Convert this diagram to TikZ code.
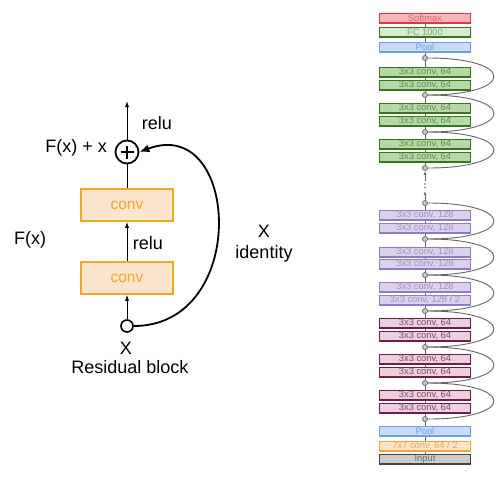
\documentclass[tikz,border=0pt]{standalone}
\usepackage{fontspec}
\setmainfont{Liberation Sans}
\usetikzlibrary{arrows.meta}
\definecolor{convOr}{HTML}{F5A623}
\definecolor{convFill}{HTML}{FCE5CD}
\definecolor{smD}{HTML}{E03A3A}\definecolor{smF}{HTML}{F4B6B9}\definecolor{smT}{HTML}{E06666}
\definecolor{fcD}{HTML}{38761D}\definecolor{fcF}{HTML}{D9EAD3}\definecolor{fcT}{HTML}{7FA870}
\definecolor{plD}{HTML}{6D9EEB}\definecolor{plF}{HTML}{C9DAF8}\definecolor{plT}{HTML}{6D9EEB}
\definecolor{gnD}{HTML}{38761D}\definecolor{gnF}{HTML}{B6D7A8}\definecolor{gnT}{HTML}{5E8F4E}
\definecolor{puD}{HTML}{8E7CC3}\definecolor{puF}{HTML}{D9D2E9}\definecolor{puT}{HTML}{9C90CC}
\definecolor{rdD}{HTML}{741B47}\definecolor{rdF}{HTML}{EAD1DC}\definecolor{rdT}{HTML}{7E4A62}
\definecolor{svD}{HTML}{F6A43A}\definecolor{svF}{HTML}{FCE5CD}\definecolor{svT}{HTML}{F0A848}
\definecolor{inD}{HTML}{434343}\definecolor{inF}{HTML}{CCCCCC}\definecolor{inT}{HTML}{666666}
\definecolor{lineG}{HTML}{666666}
\tikzset{
  lbl/.style={inner sep=0pt, font=\fontsize{18}{20}\selectfont},
  convbox/.style={draw=convOr, fill=convFill, line width=1.5pt, minimum width=92pt, minimum height=32pt, inner sep=0pt, text=convOr, font=\fontsize{15.5}{17}\selectfont},
  sarrow/.style={line width=0.9pt, -{Latex[length=6pt,width=4pt]}},
  barrow/.style={line width=1.8pt, -{Latex[length=10pt,width=8pt]}},
  rbox/.style={line width=1.5pt, minimum width=91pt, minimum height=9.5pt, inner sep=0pt, font=\fontsize{9.3}{9.3}\selectfont},
  bsm/.style={rbox, draw=smD, fill=smF, text=smT},
  bfc/.style={rbox, draw=fcD, fill=fcF, text=fcT},
  bpl/.style={rbox, draw=plD, fill=plF, text=plT},
  bgn/.style={rbox, draw=gnD, fill=gnF, text=gnT},
  bpu/.style={rbox, draw=puD, fill=puF, text=puT},
  brd/.style={rbox, draw=rdD, fill=rdF, text=rdT},
  bsv/.style={rbox, draw=svD, fill=svF, text=svT},
  bin/.style={rbox, draw=inD, fill=inF, text=inT},
  jn/.style={circle, draw=lineG, fill=inF, line width=0.8pt, minimum size=5pt, inner sep=0pt},
  bb/.style={draw=lineG, line width=0.8pt},
  garrow/.style={draw=lineG, line width=0.8pt, -{Latex[length=4pt,width=3pt]}},
  skipc/.style={draw=lineG, line width=0.9pt}
}
\begin{document}
\begin{tikzpicture}[x=1pt,y=-1pt]
\useasboundingbox[fill=white] (0,0) rectangle (498,483);
% ---------- Residual block ----------
\node[convbox] (cu) at (127,205) {conv};
\node[convbox] (cl) at (127,278) {conv};
\node[circle, draw, line width=1.8pt, minimum size=23pt, inner sep=0pt] (plus) at (127,152) {};
\draw[line width=2.8pt] (plus.center) ++(-6.5,0) -- ++(13,0);
\draw[line width=2.8pt] (plus.center) ++(0,-6.5) -- ++(0,13);
\node[circle, draw, line width=1.6pt, minimum size=12pt, inner sep=0pt] (xin) at (127,326) {};
\coordinate (out) at (127,101);
\draw[sarrow] (xin) -- (cl);
\draw[sarrow] (cl) -- (cu);
\draw[line width=0.9pt] (cu) -- (plus);
\draw[sarrow] (plus) -- (out);
\draw[barrow] (xin.east) .. controls (250,326) and (240,114) .. (plus.east);
\node[lbl] (relu1) at (157,123) {relu};
\node[lbl, anchor=east] (fxx) at (107,148) {F(x) + x};
\node[lbl] (fx) at (30,240) {F(x)};
\node[lbl] (relu2) at (148,243) {relu};
\node[lbl] (xid) at (264,231) {X};
\node[lbl] (ident) at (264,254) {identity};
\node[lbl] (xb) at (126,348) {X};
\node[lbl] (rb) at (130,367) {Residual block};
% ---------- ResNet column ----------
\node[bsm] (sm) at (425,18) {Softmax};
\node[bfc] (fc) at (425,32) {FC 1000};
\node[bpl] (pt) at (425,47) {Pool};
\node[jn] (k1) at (425,58) {};
\node[bgn] (g1) at (425,72) {3x3 conv, 64};
\node[bgn] (g2) at (425,85) {3x3 conv, 64};
\node[jn] (k2) at (425,95) {};
\node[bgn] (g3) at (425,108) {3x3 conv, 64};
\node[bgn] (g4) at (425,121) {3x3 conv, 64};
\node[jn] (k3) at (425,132) {};
\node[bgn] (g5) at (425,144) {3x3 conv, 64};
\node[bgn] (g6) at (425,157) {3x3 conv, 64};
\node[jn] (k4) at (425,168) {};
\node[jn] (k5) at (425,203) {};
\node[bpu] (p1) at (425,215) {3x3 conv, 128};
\node[bpu] (p2) at (425,228) {3x3 conv, 128};
\node[jn] (k6) at (425,239) {};
\node[bpu] (p3) at (425,252) {3x3 conv, 128};
\node[bpu] (p4) at (425,264) {3x3 conv, 128};
\node[jn] (k7) at (425,275) {};
\node[bpu] (p5) at (425,287) {3x3 conv, 128};
\node[bpu] (p6) at (425,300) {3x3 conv, 128 / 2};
\node[jn] (k8) at (425,311) {};
\node[brd] (r1) at (425,323) {3x3 conv, 64};
\node[brd] (r2) at (425,336) {3x3 conv, 64};
\node[jn] (k9) at (425,347) {};
\node[brd] (r3) at (425,359) {3x3 conv, 64};
\node[brd] (r4) at (425,372) {3x3 conv, 64};
\node[jn] (k10) at (425,383) {};
\node[brd] (r5) at (425,395) {3x3 conv, 64};
\node[brd] (r6) at (425,408) {3x3 conv, 64};
\node[jn] (k11) at (425,419) {};
\node[bpl] (pb) at (425,431) {Pool};
\node[bsv] (sv) at (425,446) {7x7 conv, 64 / 2};
\node[bin] (inp) at (425,459) {Input};
\foreach \a/\b in {sm/fc,fc/pt,pt/k1,k1/g1,g1/g2,g2/k2,k2/g3,g3/g4,g4/k3,k3/g5,g5/g6,g6/k4,
  k5/p1,p1/p2,p2/k6,k6/p3,p3/p4,p4/k7,k7/p5,p5/p6,p6/k8,k8/r1,r1/r2,r2/k9,k9/r3,r3/r4,r4/k10,
  k10/r5,r5/r6,r6/k11,k11/pb,pb/sv,sv/inp}
  \draw[bb] (\a) -- (\b);
\coordinate (da) at (425,181);
\coordinate (db) at (425,191);
\draw[garrow] (da) -- (k4);
\draw[garrow] (k5) -- (db);
\fill[lineG] (425,184) circle (0.8pt) (425,187.5) circle (0.8pt);
\foreach \a/\b in {k1/k2,k2/k3,k3/k4,k5/k6,k6/k7,k7/k8,k8/k9,k9/k10,k10/k11}
  \draw[skipc] (\a.east) .. controls +(88,0) and +(88,0) .. (\b.east);
\end{tikzpicture}
\end{document}
